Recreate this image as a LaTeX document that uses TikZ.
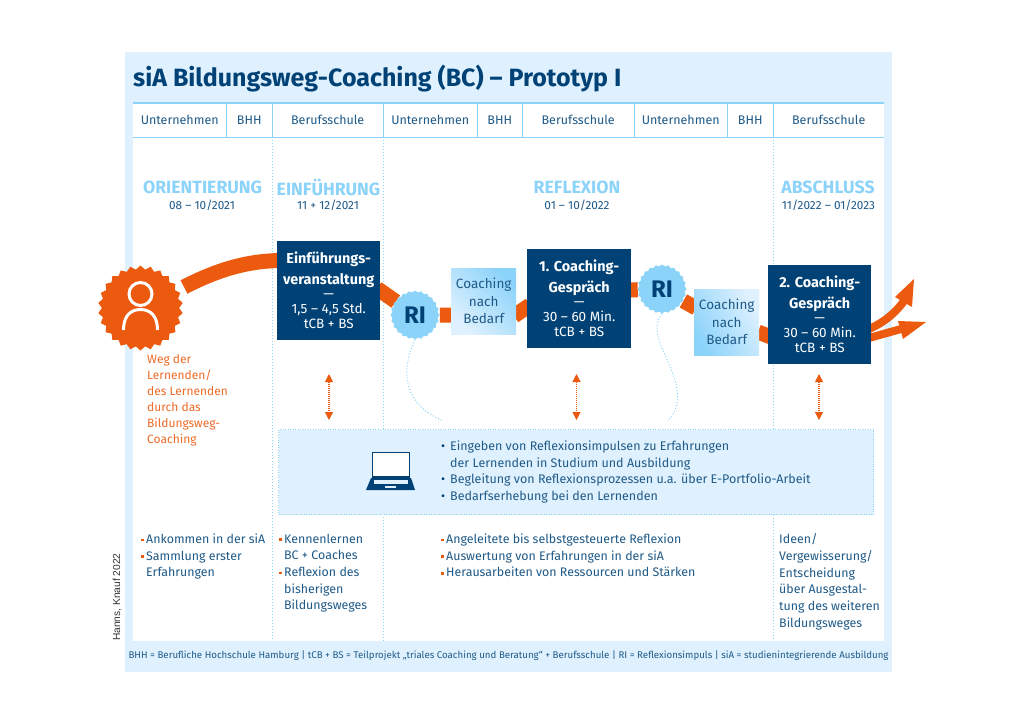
\documentclass[tikz,border=0pt]{standalone}
\usepackage{fontspec}
\setmainfont{Fira Sans}
\newfontfamily\creditfont{Liberation Sans}
\usetikzlibrary{shapes.geometric,arrows.meta}
\pgfdeclarelayer{panel}
\pgfdeclarelayer{road}
\pgfsetlayers{panel,road,main}
\newlength{\du}
\setlength{\du}{1pt}
\definecolor{sianavy}{HTML}{004276}
\definecolor{siaink}{HTML}{1F5A88}
\definecolor{siasky}{HTML}{8CD3FA}
\definecolor{siapale}{HTML}{DFF1FE}
\definecolor{siaorange}{HTML}{EC5A10}
\tikzset{
  headcell/.style={fill=white,text=siaink,font=\fontsize{12.5}{15}\selectfont,anchor=north west,minimum height=34\du,inner sep=0pt},
  headline/.style={draw=siasky,line width=1.5\du},
  phasetitle/.style={text=siasky,font=\fontsize{17.7}{20}\selectfont\bfseries,inner sep=0pt},
  phasedate/.style={text=siaink,font=\fontsize{11.8}{14}\selectfont,inner sep=0pt},
  navybox/.style={fill=sianavy,text=white,align=center,anchor=north west,inner sep=0pt,font=\fontsize{13.5}{15}\selectfont},
  coachbox/.style={text=siaink,align=center,anchor=north west,inner sep=0pt,minimum width=65\du,minimum height=66\du,font=\fontsize{13.5}{17.5}\selectfont},
  ribadge/.style={star,star points=24,star point ratio=1.08,fill=siasky,text=sianavy,inner sep=0pt,minimum size=49\du,font=\fontsize{24}{26}\selectfont\bfseries},
  road/.style={draw=siaorange,line width=15\du},
  thinroad/.style={draw=siaorange,line width=8\du},
  dotline/.style={draw=siasky,line width=1pt,dash pattern=on 1pt off 2pt},
  dualarrow/.style={draw=siaorange,line width=1.1pt,dash pattern=on 1pt off 1pt,{Triangle[length=8pt,width=8pt]}-{Triangle[length=8pt,width=8pt]}},
  listtext/.style={text=siaink,align=left,anchor=north west,inner sep=0pt,font=\fontsize{12.4}{16.7}\selectfont},
}
\newcommand{\bul}{\makebox[5\du][l]{\textcolor{siaorange}{\raisebox{2.2\du}{\rule{2.6\du}{2.6\du}}}}}
\newcommand{\dotbul}{\makebox[9\du][l]{\textcolor{sianavy}{•}}}
\newcommand{\boxhead}[1]{{\bfseries\fontsize{14.4}{19}\selectfont #1}}
\begin{document}
\begin{tikzpicture}
\pgftransformyscale{-1.000000}
\useasboundingbox (0\du,0\du) rectangle (1024\du,724\du);
% panels
\begin{pgfonlayer}{panel}
\fill[siapale] (125\du,52\du) rectangle (892\du,672\du);
\fill[white] (133\du,137\du) rectangle (884\du,641\du);
% dotted columns
\draw[dotline] (272.5\du,137\du)--(272.5\du,641\du);
\draw[dotline] (383\du,137\du)--(383\du,429\du);
\draw[dotline] (383\du,514\du)--(383\du,641\du);
\draw[dotline] (773\du,137\du)--(773\du,641\du);
\end{pgfonlayer}
\node[anchor=west,text=sianavy,inner sep=0pt,font=\fontsize{25}{28}\selectfont\bfseries] (title) at (133\du,78.5\du){siA Bildungsweg-Coaching (BC) – Prototyp I};
% header row
\node[headcell,minimum width=93\du] (hunta) at (133\du,103\du){Unternehmen};
\node[headcell,minimum width=46\du] (hbhha) at (226\du,103\du){BHH};
\node[headcell,minimum width=111\du] (hberufa) at (272\du,103\du){Berufsschule};
\node[headcell,minimum width=94\du] (huntb) at (383\du,103\du){Unternehmen};
\node[headcell,minimum width=45\du] (hbhhb) at (477\du,103\du){BHH};
\node[headcell,minimum width=112\du] (hberufb) at (522\du,103\du){Berufsschule};
\node[headcell,minimum width=93\du] (huntc) at (634\du,103\du){Unternehmen};
\node[headcell,minimum width=46\du] (hbhhc) at (727\du,103\du){BHH};
\node[headcell,minimum width=111\du] (hberufc) at (773\du,103\du){Berufsschule};
\draw[headline] (hunta.north west) -- (hberufc.north east);
\draw[headline] (hunta.south west) -- (hberufc.south east);
\foreach \cellname in {hunta,hbhha,hberufa,huntb,hbhhb,hberufb,huntc,hbhhc}
  \draw[headline] (\cellname.north east) -- (\cellname.south east);
% phases
\node[phasetitle] (orient) at (202.5\du,187\du){ORIENTIERUNG};
\node[phasedate] (orientdate) at (202\du,205\du){08 – 10/2021};
\node[phasetitle] (einf) at (328.5\du,187\du){EINFÜHRUNG};
\node[phasedate] (einfdate) at (328\du,205\du){11 + 12/2021};
\node[phasetitle] (refl) at (577\du,187\du){REFLEXION};
\node[phasedate] (refldate) at (577\du,205\du){01 – 10/2022};
\node[phasetitle] (absch) at (828\du,187\du){ABSCHLUSS};
\node[phasedate] (abschdate) at (828.5\du,205\du){11/2022 – 01/2023};
% boxes
\node[navybox,minimum width=103\du,minimum height=99\du] (boxa) at (277\du,241\du){\boxhead{Einführungs-}\\[6\du]\boxhead{veranstaltung}\\[-1\du]—\\1,5 – 4,5 Std.\\tCB + BS};
\node[navybox,minimum width=104\du,minimum height=99\du] (boxb) at (527\du,249\du){\boxhead{1. Coaching-}\\[6\du]\boxhead{Gespräch}\\[-1\du]—\\30 – 60 Min.\\tCB + BS};
\node[navybox,minimum width=103\du,minimum height=99\du] (boxc) at (768\du,265\du){\boxhead{2. Coaching-}\\[6\du]\boxhead{Gespräch}\\[-1\du]—\\30 – 60 Min.\\tCB + BS};
\node[coachbox,left color=siasky,right color=siapale,shading angle=315] (coacha) at (451\du,268\du){Coaching\\nach\\Bedarf};
\node[coachbox,left color=siapale,right color=siasky,shading angle=300] (coachb) at (694\du,289\du){Coaching\\nach\\Bedarf};
\node[ribadge] (ria) at (415\du,315\du){RI};
\node[ribadge] (rib) at (662\du,289\du){RI};
\node[star,star points=26,star point ratio=1.1,fill=siaorange,inner sep=0pt,minimum size=85\du] (walker) at (140.5\du,308\du){};
\begin{scope}[shift={(walker)}]
\draw[white,line width=3\du] (0\du,-14\du) circle (11.5\du);
\draw[white,line width=3\du] (-17\du,22\du) .. controls (-17\du,8\du) and (-10\du,1.5\du) .. (0\du,1.5\du) .. controls (10\du,1.5\du) and (17\du,8\du) .. (17\du,22\du);
\end{scope}
% road
\coordinate (roadstart) at (184\du,287\du);
\coordinate (boxain) at (280\du,260.5\du);
\coordinate (coachain) at (453\du,315\du);
\coordinate (coachaout) at (514\du,316\du);
\coordinate (boxbin) at (530\du,305\du);
\coordinate (boxbout) at (628\du,290\du);
\coordinate (coachbin) at (696\du,308\du);
\coordinate (coachbout) at (758\du,332\du);
\coordinate (boxcin) at (771\du,337\du);
\coordinate (roadouta) at (869\du,329\du);
\coordinate (roadoutb) at (869\du,338\du);
\coordinate (tipa) at (914\du,279\du);
\coordinate (tipb) at (926\du,322\du);
\coordinate (bodya) at (904\du,301\du);
\coordinate (bodyb) at (901\du,329\du);
\begin{pgfonlayer}{road}
\draw[road] (roadstart) .. controls (215\du,271\du) and (245\du,261\du) .. (boxain);
\draw[road,shorten <=-4\du] (boxa.east) -- (ria);
\draw[road] (ria) -- (coachain);
\draw[road] (coachaout) -- (boxbin);
\draw[road] (boxbout) -- (rib);
\draw[road] (rib) -- (coachbin);
\draw[road] (coachbout) -- (boxcin);
\draw[thinroad] (roadouta) .. controls (885\du,322\du) and (896\du,312\du) .. (bodya);
\draw[thinroad] (roadoutb) -- (bodyb);
\fill[siaorange] (tipa) -- (895\du,297\du) -- (912\du,307\du) -- cycle;
\fill[siaorange] (tipb) -- (898\du,321\du) -- (903\du,339\du) -- cycle;
\end{pgfonlayer}
% ri links
\draw[dotline] (ria.south) .. controls (405\du,360\du) and (395\du,400\du) .. (443\du,421\du);
\draw[dotline] (rib.south) .. controls (640\du,340\du) and (700\du,385\du) .. (668\du,421\du);
% laptop
\node[fill=siapale,draw=siasky,line width=1pt,dash pattern=on 1pt off 1.5pt,anchor=north west,minimum width=595\du,minimum height=85\du,inner sep=0pt] (infobox) at (278\du,429\du){};
\draw[sianavy,line width=1.8\du,fill=white] (372.5\du,452.5\du) rectangle (409.5\du,477\du);
\fill[sianavy] (371\du,478\du) -- (411\du,478\du) -- (415\du,490\du) -- (366\du,490\du) -- cycle;
\fill[siapale] (374\du,480\du) rectangle (408\du,484\du);
\fill[siapale] (385\du,485.5\du) rectangle (396\du,488\du);
% dual arrows
\coordinate (dualaa) at (329\du,374\du);
\coordinate (dualab) at (329\du,420\du);
\coordinate (dualba) at (576.5\du,374\du);
\coordinate (dualbb) at (576.5\du,420\du);
\coordinate (dualca) at (819\du,374\du);
\coordinate (dualcb) at (819\du,420\du);
\draw[dualarrow] (dualaa) -- (dualab);
\draw[dualarrow] (dualba) -- (dualbb);
\draw[dualarrow] (dualca) -- (dualcb);
% texts
\node[listtext,text=siaorange!90!white,font=\fontsize{12}{16}\selectfont] (wegtext) at (147\du,354\du){Weg der\\Lernenden/\\des Lernenden\\durch das\\Bildungsweg-\\Coaching};
\node[listtext,font=\fontsize{12.5}{16.7}\selectfont] (infotext) at (441\du,440.5\du){\dotbul Eingeben von Reflexionsimpulsen zu Erfahrungen\\\hspace*{9\du}der Lernenden in Studium und Ausbildung\\\dotbul Begleitung von Reflexionsprozessen u.a. über E-Portfolio-Arbeit\\\dotbul Bedarfserhebung bei den Lernenden};
\node[listtext] (lista) at (141\du,533.5\du){\bul Ankommen in der siA\\\bul Sammlung erster\\\hspace*{5\du}Erfahrungen};
\node[listtext] (listb) at (279\du,533.5\du){\bul Kennenlernen\\\hspace*{5\du}BC + Coaches\\\bul Reflexion des\\\hspace*{5\du}bisherigen\\\hspace*{5\du}Bildungsweges};
\node[listtext] (listc) at (441\du,533.5\du){\bul Angeleitete bis selbstgesteuerte Reflexion\\\bul Auswertung von Erfahrungen in der siA\\\bul Herausarbeiten von Ressourcen und Stärken};
\node[listtext] (listd) at (779\du,533.5\du){Ideen/\\Vergewisserung/\\Entscheidung\\über Ausgestal-\\tung des weiteren\\Bildungsweges};
\node[text=siaink,inner sep=0pt,font=\fontsize{9.7}{12}\selectfont] (legend) at (508.5\du,655.5\du){BHH = Berufliche Hochschule Hamburg | tCB + BS = Teilprojekt „triales Coaching und Beratung“ + Berufsschule | RI = Reflexionsimpuls | siA = studienintegrierende Ausbildung};
\node[rotate=90,anchor=west,inner sep=0pt,text=black!80,font=\creditfont\fontsize{10.2}{12}\selectfont] (credit) at (117\du,641\du){Hanns, Knauf 2022};
\end{tikzpicture}
\end{document}
